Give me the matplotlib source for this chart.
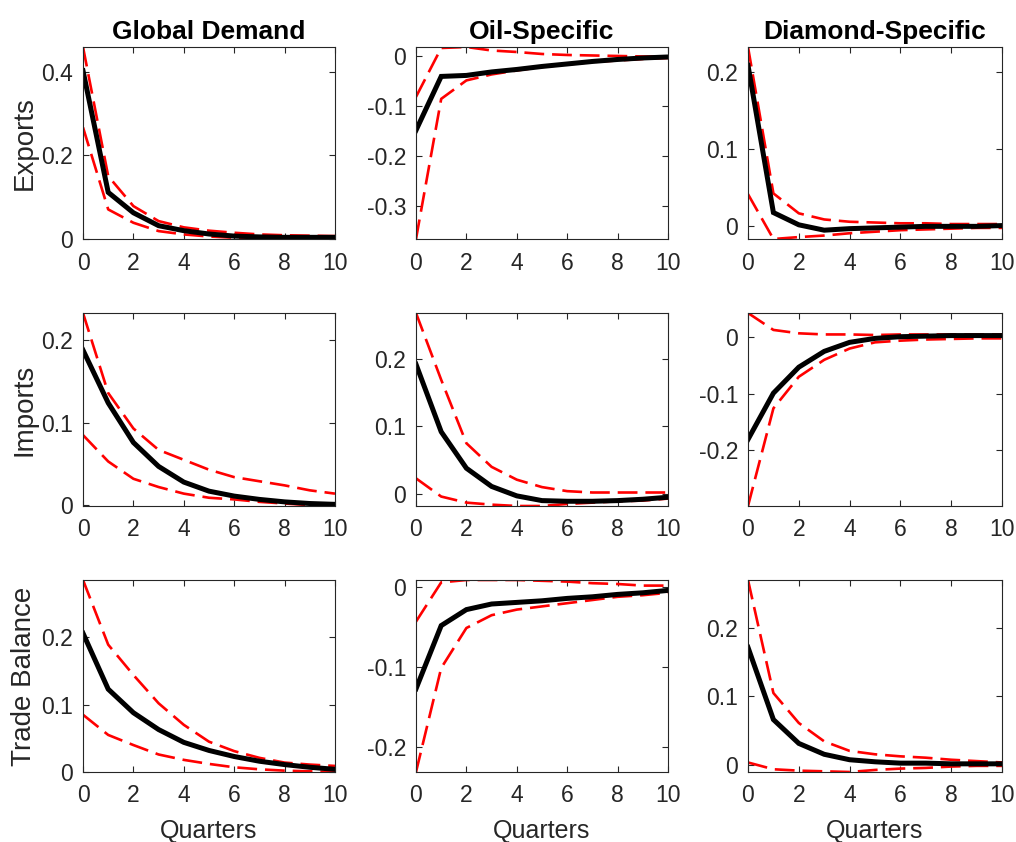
import numpy as np
import matplotlib
matplotlib.use("Agg")
import matplotlib.pyplot as plt
from matplotlib.ticker import MultipleLocator, FuncFormatter

plt.rcParams['font.family'] = ['Liberation Sans', 'DejaVu Sans']
plt.rcParams['axes.unicode_minus'] = False

quarters = np.arange(11)
shocks = ["Global Demand", "Oil-Specific", "Diamond-Specific"]
variables = ["Exports", "Imports", "Trade Balance"]

# point estimates and bands, row = variable, column = shock
exp_global = [0.403, 0.111, 0.062, 0.031, 0.019, 0.011, 0.006, 0.004, 0.003, 0.003, 0.003]
exp_global_hi = [0.46, 0.15, 0.078, 0.042, 0.027, 0.019, 0.014, 0.010, 0.008, 0.007, 0.006]
exp_global_lo = [0.267, 0.07, 0.038, 0.018, 0.010, 0.005, 0.002, 0.001, 0.0, -0.001, -0.001]

exp_oil = [-0.148, -0.040, -0.038, -0.031, -0.026, -0.020, -0.015, -0.010, -0.006, -0.003, -0.001]
exp_oil_hi = [-0.081, 0.017, 0.019, 0.012, 0.009, 0.005, 0.003, 0.002, 0.001, 0.0, 0.0]
exp_oil_lo = [-0.366, -0.085, -0.048, -0.036, -0.028, -0.021, -0.016, -0.011, -0.008, -0.005, -0.003]

exp_dia = [0.209, 0.017, 0.001, -0.006, -0.004, -0.003, -0.002, -0.001, -0.001, -0.001, 0.0]
exp_dia_hi = [0.233, 0.042, 0.016, 0.008, 0.005, 0.004, 0.003, 0.003, 0.002, 0.002, 0.002]
exp_dia_lo = [0.041, -0.0175, -0.015, -0.013, -0.010, -0.008, -0.006, -0.005, -0.004, -0.003, -0.003]

imp_global = [0.188, 0.124, 0.076, 0.047, 0.028, 0.017, 0.011, 0.007, 0.004, 0.002, 0.001]
imp_global_hi = [0.233, 0.136, 0.093, 0.067, 0.055, 0.043, 0.034, 0.029, 0.024, 0.018, 0.014]
imp_global_lo = [0.085, 0.053, 0.032, 0.022, 0.014, 0.009, 0.007, 0.004, 0.002, 0.0, -0.001]

imp_oil = [0.192, 0.092, 0.038, 0.011, -0.003, -0.010, -0.011, -0.011, -0.010, -0.008, -0.005]
imp_oil_hi = [0.268, 0.169, 0.075, 0.040, 0.021, 0.010, 0.004, 0.002, 0.002, 0.002, 0.002]
imp_oil_lo = [0.023, -0.004, -0.013, -0.016, -0.018, -0.018, -0.015, -0.013, -0.011, -0.010, -0.007]

imp_dia = [-0.181, -0.099, -0.053, -0.025, -0.009, -0.002, 0.001, 0.002, 0.003, 0.003, 0.003]
imp_dia_hi = [0.043, 0.013, 0.007, 0.005, 0.005, 0.004, 0.005, 0.005, 0.005, 0.005, 0.005]
imp_dia_lo = [-0.299, -0.126, -0.070, -0.040, -0.020, -0.009, -0.006, -0.004, -0.003, -0.002, -0.002]

tb_global = [0.206, 0.123, 0.088, 0.063, 0.044, 0.032, 0.023, 0.016, 0.011, 0.007, 0.004]
tb_global_hi = [0.285, 0.189, 0.144, 0.102, 0.070, 0.045, 0.031, 0.021, 0.014, 0.011, 0.009]
tb_global_lo = [0.085, 0.055, 0.040, 0.026, 0.018, 0.012, 0.007, 0.004, 0.002, 0.001, 0.0]

tb_oil = [-0.127, -0.048, -0.028, -0.021, -0.019, -0.017, -0.014, -0.012, -0.009, -0.007, -0.004]
tb_oil_hi = [-0.043, 0.006, 0.009, 0.009, 0.009, 0.008, 0.007, 0.005, 0.004, 0.002, 0.002]
tb_oil_lo = [-0.231, -0.101, -0.051, -0.035, -0.028, -0.024, -0.020, -0.016, -0.012, -0.010, -0.007]

tb_dia = [0.172, 0.066, 0.031, 0.015, 0.007, 0.004, 0.002, 0.002, 0.001, 0.001, 0.001]
tb_dia_hi = [0.271, 0.105, 0.061, 0.034, 0.020, 0.015, 0.012, 0.010, 0.007, 0.005, 0.003]
tb_dia_lo = [0.003, -0.007, -0.009, -0.010, -0.011, -0.008, -0.006, -0.005, -0.003, -0.002, -0.002]

panels = [
    [(exp_global, exp_global_lo, exp_global_hi), (exp_oil, exp_oil_lo, exp_oil_hi), (exp_dia, exp_dia_lo, exp_dia_hi)],
    [(imp_global, imp_global_lo, imp_global_hi), (imp_oil, imp_oil_lo, imp_oil_hi), (imp_dia, imp_dia_lo, imp_dia_hi)],
    [(tb_global, tb_global_lo, tb_global_hi), (tb_oil, tb_oil_lo, tb_oil_hi), (tb_dia, tb_dia_lo, tb_dia_hi)],
]

W, H = 1016, 842
fig = plt.figure(figsize=(W / 100, H / 100), dpi=100)

col_px = [(83, 335), (416, 668), (748, 1002)]
row_px = [(47, 239), (313, 506), (580, 772)]
edge = (0.15, 0.15, 0.15)

fmt = FuncFormatter(lambda v, p: "%g" % round(v, 6))

for r in range(3):
    for c in range(3):
        x0, x1 = col_px[c]
        y0, y1 = row_px[r]
        ax = fig.add_axes([x0 / W, 1 - y1 / H, (x1 - x0) / W, (y1 - y0) / H])
        mid, lo, hi = panels[r][c]
        ax.plot(quarters, hi, color="red", lw=1.9, dashes=(7.5, 3))
        ax.plot(quarters, lo, color="red", lw=1.9, dashes=(7.5, 3))
        ax.plot(quarters, mid, color="black", lw=3.6, solid_joinstyle="miter")
        allv = np.concatenate([mid, lo, hi])
        ax.set_xlim(0, 10)
        ax.set_ylim(allv.min(), allv.max())
        ax.xaxis.set_major_locator(MultipleLocator(2))
        ax.yaxis.set_major_locator(MultipleLocator(0.2 if (r == 0 and c == 0) else 0.1))
        ax.yaxis.set_major_formatter(fmt)
        ax.tick_params(direction="in", top=True, right=True, length=4, width=0.8,
                       colors=edge, labelsize=16.5, labelcolor=edge)
        ax.tick_params(axis="x", pad=9)
        ax.tick_params(axis="y", pad=7)
        for s in ax.spines.values():
            s.set_color(edge)
            s.set_linewidth(0.8)
        if r == 0:
            ax.set_title(shocks[c], fontsize=19, fontweight="bold", pad=6)
        if c == 0:
            ax.set_ylabel(variables[r], fontsize=20, color=edge, labelpad=3)
        if r == 2:
            ax.set_xlabel("Quarters", fontsize=18, color=edge, labelpad=8)

fig.savefig("out.png", dpi=100)
